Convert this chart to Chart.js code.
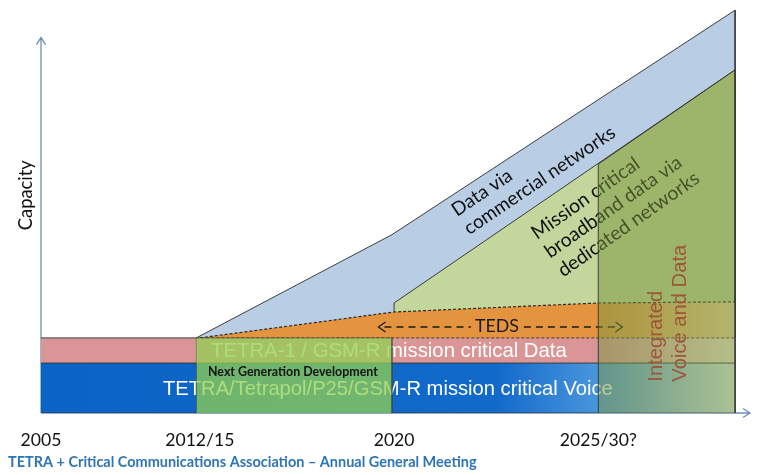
<!DOCTYPE html>
<html><head><meta charset="utf-8">
<script src="https://cdn.jsdelivr.net/npm/chart.js@4/dist/chart.umd.min.js"></script>
<style>html,body{margin:0;padding:0;background:#fff;overflow:hidden}canvas{display:block}</style>
</head><body>
<canvas id="c" width="762" height="475"></canvas>
<script>
// Timeline runs 0..100 along the horizontal axis, capacity 0..110 on the vertical axis.
const xTickPos = [0, 22.4, 49.8, 78.6];
const xTickLabels = ['2005', '2012/15', '2020', '2025/30?'];

const voiceX = [0, 97.9];
const voiceY = [13.3, 13.3];
const dataBandX = [0, 21.9, 97.9];
const dataBandY = [20, 20, 20];
const commercialX = [21.9, 49.5, 97.9, 97.9];
const commercialY = [20, 47.5, 107.3, 91.4];
const broadbandX = [49.8, 49.8, 97.9, 97.9];
const broadbandY = [26.9, 29.3, 91.4, 20];
const tedsX = [22.4, 49.8, 78.6, 97.9];
const tedsY = [20, 26.9, 29.3, 29.6];
const nextGenX = [21.9, 21.9, 49.5, 49.5];
const nextGenY = [0, 20, 20, 0];
const integratedX = [78.6, 78.6, 97.9, 97.9];
const integratedY = [0, 66.3, 91.4, 0];
const baseX = [0, 97.9];
const baseY = [0, 0];
const tedsArrowX = [47.6, 82.0];
const tedsArrowY = 22.9;

const voiceText = 'TETRA/Tetrapol/P25/GSM-R mission critical Voice';
const dataText = 'TETRA-1 / GSM-R mission critical Data';
const nextGenText = 'Next Generation Development';
const commercialLines = ['Data via', 'commercial networks'];
const broadbandLines = ['Mission critical', 'broadband data via', 'dedicated networks'];
const integratedLines = ['Integrated', 'Voice and Data'];
const footerText = 'TETRA + Critical Communications Association \u2013 Annual General Meeting';

// annotation anchors (in data units)
const A = {
  capacity: {x: -1.27, y: 48.7},
  voice: {x: 17.2, y: 4.8},
  dataTxt: {x: 23.98, y: 14.9},
  nextGen: {x: 23.55, y: 9.85},
  teds: {x: 64.3, y: 21.5},
  commercialTxt: {x: 58.67, y: 52.2},
  broadbandTxt: {x: 69.96, y: 46.1},
  integratedTxt: {x: 87.6, y: 8.34}
};

const pts = (xs, ys) => xs.map((x, i) => ({x, y: ys[i]}));
const EDGE = '#3c3c3c';
const CAL = 'Lato, "Open Sans", sans-serif';
const ARIAL = '"Liberation Sans", Arial, sans-serif';

function hGrad(chart, stops) {
  if (!chart.chartArea) return stops[0][1];
  const xs = chart.scales.x;
  const p0 = xs.getPixelForValue(xs.min), p1 = xs.getPixelForValue(xs.max);
  const g = chart.ctx.createLinearGradient(p0, 0, p1, 0);
  stops.forEach(([v, c]) => g.addColorStop((v - xs.min) / (xs.max - xs.min), c));
  return g;
}
function fitFont(ctx, text, weight, family, width) {
  ctx.font = `${weight} 100px ${family}`;
  const w = ctx.measureText(text).width;
  return `${weight} ${(100 * width / w).toFixed(2)}px ${family}`;
}
function px(chart, a) {
  return [chart.scales.x.getPixelForValue(a.x), chart.scales.y.getPixelForValue(a.y)];
}
function drawBlock(ctx, lines, x, y, deg, lh, font, color) {
  ctx.save();
  ctx.translate(x, y);
  ctx.rotate(deg * Math.PI / 180);
  ctx.font = font; ctx.fillStyle = color;
  ctx.textAlign = 'left'; ctx.textBaseline = 'alphabetic';
  lines.forEach((l, i) => ctx.fillText(l, 0, i * lh));
  ctx.restore();
}

const layers = {
  id: 'layers',
  beforeDatasetsDraw(chart) {
    const ctx = chart.ctx, xs = chart.scales.x, ys = chart.scales.y;
    const x0 = xs.getPixelForValue(0), y0 = ys.getPixelForValue(0);
    const xTop = ys.getPixelForValue(100), xEnd = xs.getPixelForValue(100);
    ctx.save();
    ctx.strokeStyle = '#6f8fb8'; ctx.lineWidth = 1.3;
    ctx.beginPath();
    ctx.moveTo(x0, y0); ctx.lineTo(x0, xTop);
    ctx.moveTo(x0 - 4.5, xTop + 7); ctx.lineTo(x0, xTop); ctx.lineTo(x0 + 4.5, xTop + 7);
    ctx.moveTo(x0, y0); ctx.lineTo(xEnd, y0);
    ctx.moveTo(xEnd - 7, y0 - 4.5); ctx.lineTo(xEnd, y0); ctx.lineTo(xEnd - 7, y0 + 4.5);
    ctx.stroke();
    ctx.restore();
  },
  afterDatasetDraw(chart, args) {
    const ctx = chart.ctx;
    const label = chart.data.datasets[args.index].label;
    ctx.save();
    if (label === 'voice') {
      let [x, y] = px(chart, A.voice);
      ctx.fillStyle = '#ffffff'; ctx.textAlign = 'left'; ctx.textBaseline = 'alphabetic';
      ctx.font = fitFont(ctx, voiceText, '400', ARIAL, 450);
      ctx.fillText(voiceText, x, y);
      [x, y] = px(chart, A.dataTxt);
      ctx.font = fitFont(ctx, dataText, '400', ARIAL, 356);
      ctx.fillText(dataText, x, y);
      const xs = chart.scales.x, ys = chart.scales.y;
      const ay = ys.getPixelForValue(tedsArrowY);
      const xl = xs.getPixelForValue(tedsArrowX[0]), xr = xs.getPixelForValue(tedsArrowX[1]);
      const [tx, ty] = px(chart, A.teds);
      ctx.font = fitFont(ctx, 'TEDS', '400', CAL, 44);
      const tw = ctx.measureText('TEDS').width;
      ctx.fillStyle = '#1a1a1a'; ctx.textAlign = 'center';
      ctx.fillText('TEDS', tx, ty);
      ctx.strokeStyle = '#1a1a1a'; ctx.lineWidth = 1.6;
      ctx.setLineDash([7, 5]);
      ctx.beginPath();
      ctx.moveTo(xl + 6, ay); ctx.lineTo(tx - tw / 2 - 4, ay);
      ctx.moveTo(tx + tw / 2 + 5, ay); ctx.lineTo(xr - 6, ay);
      ctx.stroke();
      ctx.setLineDash([]);
      ctx.lineWidth = 1.3;
      ctx.beginPath();
      ctx.moveTo(xl + 7, ay - 5); ctx.lineTo(xl, ay); ctx.lineTo(xl + 7, ay + 5);
      ctx.moveTo(xr - 7, ay - 5); ctx.lineTo(xr, ay); ctx.lineTo(xr - 7, ay + 5);
      ctx.stroke();
    } else if (label === 'nextGen') {
      let [x, y] = px(chart, A.nextGen);
      ctx.fillStyle = '#141414'; ctx.textAlign = 'left';
      ctx.font = fitFont(ctx, nextGenText, '700', CAL, 170);
      ctx.fillText(nextGenText, x, y);
      [x, y] = px(chart, A.commercialTxt);
      drawBlock(ctx, commercialLines, x, y, -34, 22, fitFont(ctx, commercialLines[1], '400', CAL, 178), '#111');
      [x, y] = px(chart, A.broadbandTxt);
      drawBlock(ctx, broadbandLines, x, y, -35, 23, fitFont(ctx, broadbandLines[2], '400', CAL, 168), '#111');
    } else if (label === 'integrated') {
      const [x, y] = px(chart, A.integratedTxt);
      drawBlock(ctx, integratedLines, x, y, -90, 24, fitFont(ctx, integratedLines[1], '400', ARIAL, 137), '#9e5638');
    }
    ctx.restore();
  },
  afterDraw(chart) {
    const ctx = chart.ctx, xs = chart.scales.x, ys = chart.scales.y;
    const y0 = ys.getPixelForValue(0);
    ctx.save();
    ctx.fillStyle = '#111'; ctx.textAlign = 'center'; ctx.textBaseline = 'alphabetic';
    ctx.font = fitFont(ctx, xTickLabels[3], '400', CAL, 77);
    xTickPos.forEach((v, i) => ctx.fillText(xTickLabels[i], xs.getPixelForValue(v), y0 + 33));
    const [cx, cy] = px(chart, A.capacity);
    drawBlock(ctx, ['Capacity'], cx, cy, -90, 0, fitFont(ctx, 'Capacity', '400', CAL, 70), '#111');
    ctx.fillStyle = '#2e75b6'; ctx.textAlign = 'left';
    ctx.font = fitFont(ctx, footerText, '700', CAL, 469);
    ctx.fillText(footerText, 8, 467);
    ctx.restore();
  }
};

new Chart(document.getElementById('c'), {
  type: 'line',
  data: {
    datasets: [
      {label: 'commercial', data: pts(commercialX, commercialY), fill: {value: dataBandY[0]},
       backgroundColor: '#b9cde5', borderColor: EDGE, borderWidth: 1, order: 100},
      {label: 'broadband', data: pts(broadbandX, broadbandY), fill: {value: dataBandY[0]},
       backgroundColor: '#c3d69b', borderColor: EDGE, borderWidth: 1, order: 90},
      {label: 'teds', data: pts(tedsX, tedsY), fill: {value: dataBandY[0]},
       backgroundColor: c => hGrad(c.chart, [[0, '#e4943f'], [78.6, '#e4943f'], [97.9, '#eed7a0']]),
       borderColor: '#2a2a2a', borderWidth: 1.2, borderDash: [3, 2], order: 80},
      {label: 'data', data: pts(dataBandX, dataBandY), fill: {value: voiceY[0]},
       backgroundColor: c => hGrad(c.chart, [[0, '#da9696'], [78.6, '#da9696'], [97.9, '#f2ead8']]),
       borderColor: EDGE, borderWidth: 1,
       segment: {borderDash: c => c.p0.parsed.x >= nextGenX[0] ? [3, 2] : undefined}, order: 70},
      {label: 'voice', data: pts(voiceX, voiceY), fill: {value: 0},
       backgroundColor: c => hGrad(c.chart, [[0, '#0b63c5'], [64, '#1169ca'], [78.6, '#4a96dc'], [97.9, '#e2f0ec']]),
       borderColor: EDGE, borderWidth: 1, order: 60},
      {label: 'base', data: pts(baseX, baseY), fill: false, borderColor: EDGE, borderWidth: 1.2, order: 55},
      {label: 'nextGen', data: pts(nextGenX, nextGenY), fill: {value: 0},
       backgroundColor: 'rgba(146,208,80,0.75)', borderColor: 'rgba(60,60,60,0.5)', borderWidth: 1, order: 50},
      {label: 'integrated', data: pts(integratedX, integratedY), fill: {value: 0},
       backgroundColor: 'rgba(119,147,60,0.5)', borderColor: EDGE, borderWidth: 1, order: 40}
    ]
  },
  options: {
    responsive: false,
    devicePixelRatio: 1,
    animation: false,
    events: [],
    layout: {padding: {left: 41, right: 12, top: 0, bottom: 62}},
    elements: {point: {radius: 0}, line: {tension: 0}},
    plugins: {legend: {display: false}, tooltip: {enabled: false}, filler: {drawTime: 'beforeDatasetDraw'}},
    scales: {
      x: {type: 'linear', min: 0, max: 100, display: false},
      y: {type: 'linear', min: 0, max: 110, display: false}
    }
  },
  plugins: [layers]
});
</script>
</body></html>
